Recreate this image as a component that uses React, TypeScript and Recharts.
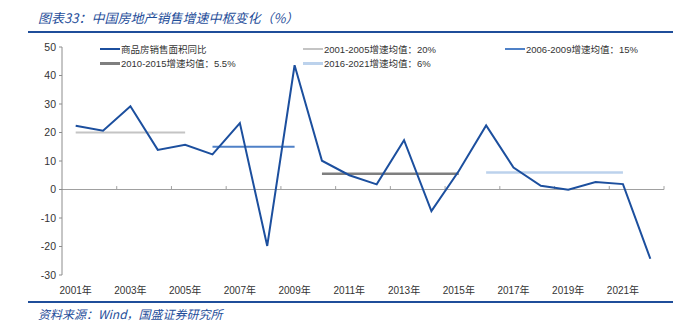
import React from 'react';
import { LineChart, Line, XAxis, YAxis, ReferenceLine } from 'recharts';

// 年份与商品房销售面积同比（%）
const years = [2001, 2002, 2003, 2004, 2005, 2006, 2007, 2008, 2009, 2010, 2011, 2012, 2013, 2014, 2015, 2016, 2017, 2018, 2019, 2020, 2021, 2022];
const salesYoY = [22.4, 20.6, 29.2, 13.9, 15.7, 12.3, 23.3, -19.8, 43.6, 10.1, 5.0, 1.8, 17.3, -7.6, 6.5, 22.5, 7.7, 1.3, -0.1, 2.6, 1.9, -24.3];

// 各阶段增速均值
const periods = [
  { key: 'p1', start: 2001, end: 2005, value: 20, label: '2001-2005增速均值：20%', color: '#c4c4c4', width: 2 },
  { key: 'p2', start: 2006, end: 2009, value: 15, label: '2006-2009增速均值：15%', color: '#4f81c7', width: 2 },
  { key: 'p3', start: 2010, end: 2015, value: 5.5, label: '2010-2015增速均值：5.5%', color: '#7f7f7f', width: 2.5 },
  { key: 'p4', start: 2016, end: 2021, value: 6, label: '2016-2021增速均值：6%', color: '#bcd2ec', width: 2.5 },
];

const xTicks = [2001, 2003, 2005, 2007, 2009, 2011, 2013, 2015, 2017, 2019, 2021];
const yTicks = [-30, -20, -10, 0, 10, 20, 30, 40, 50];
const boundaryTicks = [2002.5, 2004.5, 2006.5, 2008.5, 2010.5, 2012.5, 2014.5, 2016.5, 2018.5, 2020.5, 2022.5];

const MAIN = '#1c4f9e';
const FONT = '"Liberation Sans", "Noto Sans CJK SC", sans-serif';

const data = years.map((y, i) => {
  const row: Record<string, number | null> = { year: y, sales: salesYoY[i] };
  periods.forEach((p) => {
    row[p.key] = y >= p.start && y <= p.end ? p.value : null;
  });
  return row;
});

const legendItems = [
  { label: '商品房销售面积同比', color: MAIN, width: 2, x: 100, y: 49 },
  { label: periods[0].label, color: periods[0].color, width: 2, x: 303, y: 49 },
  { label: periods[1].label, color: periods[1].color, width: 2, x: 505, y: 49 },
  { label: periods[2].label, color: periods[2].color, width: 3, x: 100, y: 63 },
  { label: periods[3].label, color: periods[3].color, width: 3, x: 303, y: 63 },
];

export default function App() {
  return (
    <div style={{ position: 'absolute', left: 0, top: 0, width: 683, height: 323, background: '#fff', fontFamily: FONT }}>
      <div style={{ position: 'absolute', left: 38, top: 8, fontSize: 13, fontStyle: 'italic', color: '#1f4e9a', fontFamily: '"Noto Sans CJK SC", sans-serif', whiteSpace: 'nowrap' }}>
        图表33：中国房地产销售增速中枢变化（%）
      </div>
      <div style={{ position: 'absolute', left: 28, top: 31, width: 645, height: 2, background: '#1f4e9a' }} />

      <LineChart width={683} height={323} data={data} margin={{ top: 47, right: 19, bottom: 28, left: 22 }} style={{ position: 'absolute', left: 0, top: 0 }}>
        <XAxis
          dataKey="year"
          type="number"
          domain={[2000.5, 2022.5]}
          ticks={xTicks}
          tickFormatter={(v) => `${v}年`}
          axisLine={false}
          tickLine={false}
          height={20}
          tickMargin={6}
          interval={0}
          tick={{ fontSize: 10, fill: '#333', fontFamily: FONT }}
        />
        <YAxis
          domain={[-30, 50]}
          ticks={yTicks}
          width={40}
          axisLine={{ stroke: '#8c8c8c' }}
          tickLine={{ stroke: '#8c8c8c' }}
          tickSize={3}
          tickMargin={3}
          interval={0}
          tick={{ fontSize: 10.5, fill: '#333', fontFamily: FONT }}
        />
        <ReferenceLine y={0} stroke="#a0a0a0" strokeWidth={1} />
        {boundaryTicks.map((b) => (
          <ReferenceLine key={b} segment={[{ x: b, y: 0 }, { x: b, y: 1.2 }]} stroke="#a0a0a0" strokeWidth={1} />
        ))}
        {periods.map((p) => (
          <Line key={p.key} dataKey={p.key} stroke={p.color} strokeWidth={p.width} dot={false} isAnimationActive={false} connectNulls={false} />
        ))}
        <Line dataKey="sales" stroke={MAIN} strokeWidth={2} dot={false} isAnimationActive={false} />
      </LineChart>

      {legendItems.map((it) => (
        <div key={it.label} style={{ position: 'absolute', left: it.x, top: it.y - 7, height: 14, display: 'flex', alignItems: 'center', whiteSpace: 'nowrap' }}>
          <div style={{ width: 20, height: it.width, background: it.color }} />
          <span style={{ fontSize: 9.5, color: '#333', marginLeft: 1 }}>{it.label}</span>
        </div>
      ))}

      <div style={{ position: 'absolute', left: 28, top: 301, width: 645, height: 2, background: '#1f4e9a' }} />
      <div style={{ position: 'absolute', left: 38, top: 305, fontSize: 12, fontStyle: 'italic', color: '#1f4e9a', fontFamily: '"Noto Sans CJK SC", sans-serif', whiteSpace: 'nowrap' }}>
        资料来源：Wind，国盛证券研究所
      </div>
    </div>
  );
}
